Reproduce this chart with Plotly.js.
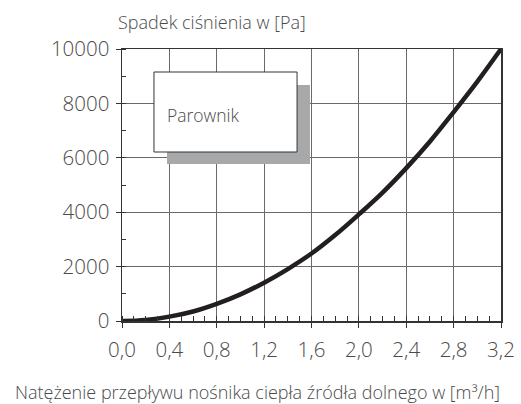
<!DOCTYPE html>
<html>
<head>
<meta charset="utf-8">
<script src="https://cdn.plot.ly/plotly-3.0.1.min.js"></script>
<style>html,body{margin:0;padding:0;background:#fff;}#chart{width:521px;height:404px;}</style>
</head>
<body>
<div id="chart"></div>
<script>
// Data
const flowRate = [0.0, 0.2, 0.4, 0.6, 0.8, 1.0, 1.2, 1.4, 1.6, 1.8, 2.0, 2.2, 2.4, 2.6, 2.8, 3.0, 3.2];
const pressureDrop = [0, 40, 160, 350, 630, 980, 1410, 1910, 2480, 3160, 3920, 4720, 5620, 6600, 7680, 8800, 10000];
const xTickVals = [0, 0.4, 0.8, 1.2, 1.6, 2.0, 2.4, 2.8, 3.2];
const xTickText = ["0,0", "0,4", "0,8", "1,2", "1,6", "2,0", "2,4", "2,8", "3,2"];
const yTickVals = [0, 2000, 4000, 6000, 8000, 10000];
const yTickText = ["0", "2000", "4000", "6000", "8000", "10000"];
const yTitle = "Spadek ciśnienia w [Pa]";
const xTitle = "Natężenie przepływu nośnika ciepła źródła dolnego w [m³/h]";
const boxLabel = "Parownik";

const txt = "#4a4a4a";
const fontFam = "Open Sans, Liberation Sans, Arial, sans-serif";
const fw = 300;

const trace = {
  x: flowRate, y: pressureDrop, type: "scatter", mode: "lines",
  line: {color: "#231f20", width: 4.5, shape: "spline"},
  hoverinfo: "skip", showlegend: false, cliponaxis: true
};

const layout = {
  width: 521, height: 404,
  margin: {l: 122, r: 20, t: 49, b: 83},
  paper_bgcolor: "#ffffff", plot_bgcolor: "#ffffff",
  font: {family: fontFam, color: txt, size: 20, weight: fw},
  showlegend: false,
  xaxis: {
    range: [0, 3.2], tickvals: xTickVals, ticktext: xTickText,
    ticks: "outside", ticklen: 5, tickcolor: "#333", tickwidth: 1,
    showgrid: true, gridcolor: "#6a6a6a", gridwidth: 1,
    showline: true, linecolor: "#333", linewidth: 1.5, mirror: true,
    zeroline: false, fixedrange: true,
    tickfont: {family: fontFam, size: 20.5, color: txt, weight: fw},
    ticklabelstandoff: 5,
    minor: {dtick: 0.1, tick0: 0, ticks: "inside", ticklen: 5, tickcolor: "#333", showgrid: false}
  },
  yaxis: {
    range: [0, 10000], tickvals: yTickVals, ticktext: yTickText,
    ticks: "outside", ticklen: 5, tickcolor: "#333", tickwidth: 1,
    showgrid: true, gridcolor: "#6a6a6a", gridwidth: 1,
    showline: true, linecolor: "#333", linewidth: 1.5, mirror: true,
    zeroline: false, fixedrange: true,
    tickfont: {family: fontFam, size: 20.5, color: txt, weight: fw},
    ticklabelstandoff: 2,
    minor: {dtick: 1000, tick0: 0, ticks: "inside", ticklen: 4, tickcolor: "#333", showgrid: false}
  },
  shapes: [
    {type: "rect", xref: "x", yref: "y", x0: 0.38, x1: 1.587, y0: 5772, y1: 8676,
     fillcolor: "#a7a8aa", line: {width: 0}, layer: "above"},
    {type: "rect", xref: "x", yref: "y", x0: 0.27, x1: 1.478, y0: 6213, y1: 9154,
     fillcolor: "#ffffff", line: {color: "#333", width: 1}, layer: "above"}
  ],
  annotations: [
    {text: boxLabel, xref: "x", yref: "y", x: 0.36, y: 7560, xanchor: "left", yanchor: "middle",
     showarrow: false, font: {family: fontFam, size: 17.5, color: txt, weight: fw}},
    {text: yTitle, xref: "paper", yref: "paper", x: -0.017, y: 1, xanchor: "left", yanchor: "bottom",
     yshift: 13, showarrow: false, font: {family: fontFam, size: 18, color: txt, weight: fw}},
    {text: xTitle, xref: "paper", yref: "paper", x: 0.357, y: 0, xanchor: "center", yanchor: "middle",
     yshift: -71, showarrow: false, font: {family: fontFam, size: 18, color: txt, weight: fw}}
  ]
};

Plotly.newPlot("chart", [trace], layout, {displayModeBar: false, staticPlot: true});
</script>
</body>
</html>
